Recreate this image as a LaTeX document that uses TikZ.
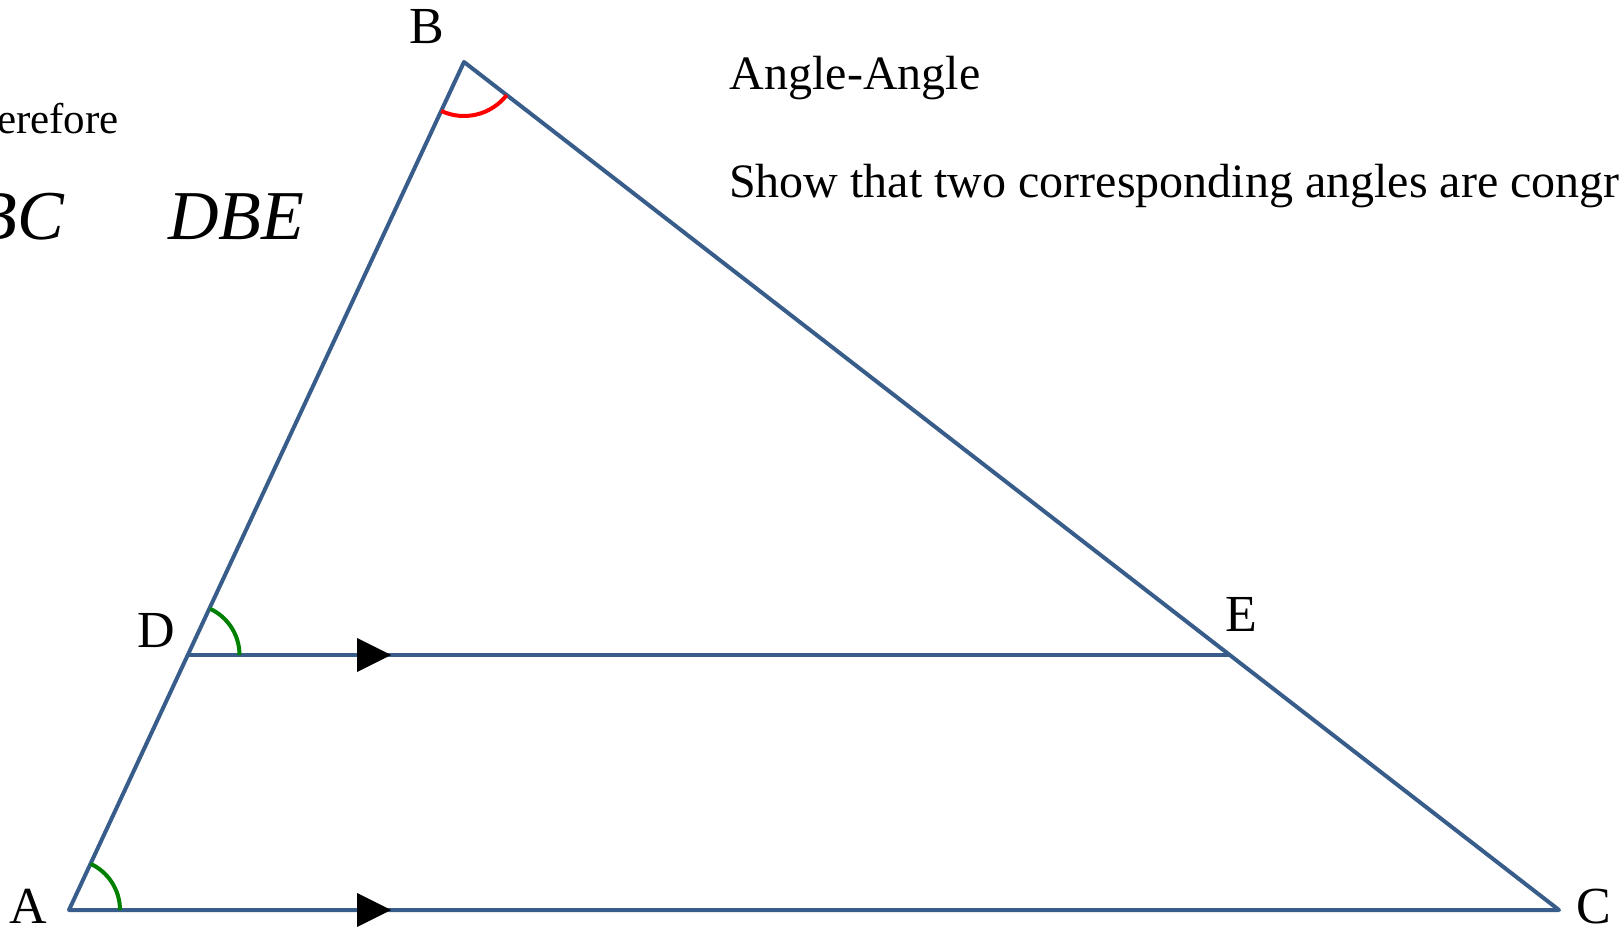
\documentclass[tikz,border=0pt]{standalone}
\usepackage{fontspec}
\setmainfont{Liberation Serif}
\usetikzlibrary{calc}
\definecolor{edgeblue}{RGB}{56,93,138}
\definecolor{anggreen}{RGB}{0,128,0}
\definecolor{angred}{RGB}{255,0,0}
\begin{document}
\begin{tikzpicture}[x=1pt,y=1pt,
  side/.style={draw=edgeblue,line width=4pt,line join=round},
  angarc/.style={line width=4pt},
  tri/.style={fill=black},
  vlabel/.style={inner sep=0pt,anchor=base,font=\fontsize{52}{62}\selectfont},
  txt/.style={inner sep=0pt,anchor=base west,font=\fontsize{48}{58}\selectfont},
  mathtxt/.style={inner sep=0pt,font=\fontsize{70}{84}\selectfont\itshape}]
\useasboundingbox (0,0) rectangle (1619,929);
\clip (0,0) rectangle (1619,929);
% vertices
\coordinate (A) at (69,19);
\coordinate (B) at (464,867);
\coordinate (C) at (1559,19);
\coordinate (D) at (188.5,274);
\coordinate (E) at (1229.5,274);
% sides
\draw[side] (A) -- (B) -- (C) -- cycle;
\draw[side] (D) -- (E);
% parallel arrows
\fill[tri] ($(D)+(168.5,17)$) -- ($(D)+(202.5,0)$) -- ($(D)+(168.5,-17)$) -- cycle;
\fill[tri] ($(A)+(288,17)$) -- ($(A)+(322,0)$) -- ($(A)+(288,-17)$) -- cycle;
% angle arcs
\draw[angarc,anggreen] ($(A)+(51,0)$) arc[start angle=0,end angle=65.03,radius=51pt];
\draw[angarc,anggreen] ($(D)+(51,0)$) arc[start angle=0,end angle=65.03,radius=51pt];
\draw[angarc,angred] ($(B)+(245.03:54pt)$) arc[start angle=245.03,end angle=322.24,radius=54pt];
% vertex labels
\node[vlabel] (lA) at (28,5.7) {A};
\node[vlabel] (lB) at (427,885.7) {B};
\node[vlabel] (lC) at (1594,5.5) {C};
\node[vlabel] (lD) at (156,281.3) {D};
\node[vlabel] (lE) at (1241,297.3) {E};
% texts
\node[txt] (t1) at (729.5,839) {Angle-Angle};
\node[txt] (t2) at (729,731.3) {Show that two corresponding angles are congr};
\node[inner sep=0pt,anchor=base east,font=\fontsize{43}{52}\selectfont] (t3) at (119,795) {erefore};
\node[mathtxt,anchor=base east] (t4) at (64,689) {BC};
\node[mathtxt,anchor=base west] (t5) at (168,689) {DBE};
\end{tikzpicture}
\end{document}
